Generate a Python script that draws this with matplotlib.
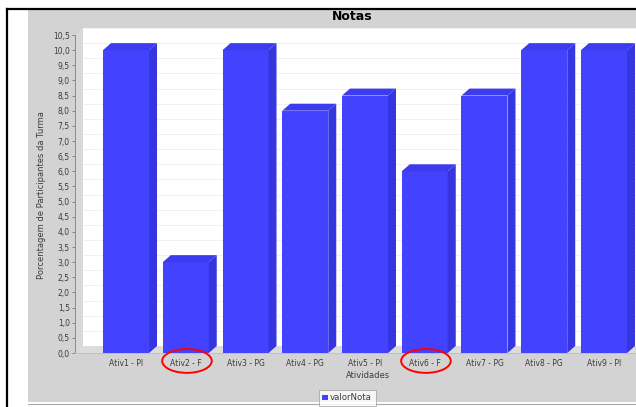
import matplotlib
matplotlib.use("Agg")
import matplotlib.pyplot as plt
import matplotlib.transforms as mtransforms
import numpy as np
from matplotlib.lines import Line2D
from matplotlib.patches import Ellipse, Polygon, Rectangle

# Dados do gráfico
atividades = ['Ativ1 - PI', 'Ativ2 - F', 'Ativ3 - PG', 'Ativ4 - PG', 'Ativ5 - PI',
              'Ativ6 - F', 'Ativ7 - PG', 'Ativ8 - PG', 'Ativ9 - PI']
notas = [10.0, 3.0, 10.0, 8.0, 8.5, 6.0, 8.5, 10.0, 10.0]
y_ticks = np.arange(0, 10.51, 0.5)
serie = 'valorNota'

W, H = 636, 407


def fx(px):
    return px / W


def fy(py):
    return 1 - py / H


fig = plt.figure(figsize=(W / 100, H / 100), dpi=100)
fig.patch.set_facecolor('white')

# fundo cinza do painel e moldura preta
fig.add_artist(Rectangle((fx(28), fy(402)), 1 - fx(28), fy(10) - fy(402),
                         transform=fig.transFigure, facecolor='#d3d3d3',
                         edgecolor='none', zorder=-5))
fig.add_artist(Line2D([fx(7), 1], [fy(9), fy(9)], color='black', lw=1.6, zorder=10))
fig.add_artist(Line2D([fx(7), fx(7)], [fy(9), 0], color='black', lw=1.6, zorder=10))
fig.add_artist(Line2D([fx(28), 1], [fy(403.5), fy(403.5)], color='#a8a8a8', lw=0.8,
                      zorder=-4))

# eixos (frente do gráfico 3D)
ax_left, ax_right, ax_top, ax_bottom = 75, 636, 35, 353
ax = fig.add_axes([fx(ax_left), fy(ax_bottom), fx(ax_right) - fx(ax_left),
                   fy(ax_top) - fy(ax_bottom)])
ax.set_zorder(1)
ax.set_xlim(-0.854, 8.536)
ax.set_ylim(0, 10.5)
ax.patch.set_visible(False)

ax_w = ax_right - ax_left
ax_h = ax_bottom - ax_top
depth_x, depth_y = 8, 7  # profundidade 3D em pixels
offset = mtransforms.ScaledTranslation(depth_x / 100, depth_y / 100, fig.dpi_scale_trans)

# parede do fundo, parede lateral e piso
ax.add_patch(Rectangle((0, 0), 1.2, 1, transform=ax.transAxes + offset,
                       facecolor='white', edgecolor='none', zorder=0, clip_on=False))
dxa, dya = depth_x / ax_w, depth_y / ax_h
ax.add_patch(Polygon([(0, 0), (dxa, dya), (dxa, 1 + dya), (0, 1)],
                     transform=ax.transAxes, facecolor='#d9d9d9', edgecolor='none',
                     zorder=0.5, clip_on=False))
ax.add_patch(Polygon([(0, 0), (1.2, 0), (1.2 + dxa, dya), (dxa, dya)],
                     transform=ax.transAxes, facecolor='#dcdcdc', edgecolor='none',
                     zorder=0.5, clip_on=False))

# linhas de grade na parede do fundo
grid_tr = ax.get_yaxis_transform() + offset
for t in y_ticks[1:]:
    ax.add_line(Line2D([0, 1.2], [t, t], transform=grid_tr, color='#ececec',
                       lw=0.5, zorder=0.8, clip_on=False))

# barras
front_c, side_c, top_c = '#4242ff', '#3636e0', '#3c3cee'
bar_w = 0.77
x = np.arange(len(atividades))
bars = ax.bar(x, notas, width=bar_w, color=front_c, zorder=3, label=serie)

ddx = depth_x * (ax.get_xlim()[1] - ax.get_xlim()[0]) / ax_w
ddy = depth_y * (ax.get_ylim()[1] - ax.get_ylim()[0]) / ax_h
for xi, h in zip(x, notas):
    x0, x1 = xi - bar_w / 2, xi + bar_w / 2
    ax.add_patch(Polygon([(x0, h), (x1, h), (x1 + ddx, h + ddy), (x0 + ddx, h + ddy)],
                         facecolor=top_c, edgecolor='none', zorder=3, clip_on=False))
    ax.add_patch(Polygon([(x1, 0), (x1 + ddx, ddy), (x1 + ddx, h + ddy), (x1, h)],
                         facecolor=side_c, edgecolor='none', zorder=3, clip_on=False))

# eixos e rótulos
for s in ['top', 'right']:
    ax.spines[s].set_visible(False)
ax.spines['left'].set_color('#8a8a8a')
ax.spines['left'].set_linewidth(0.7)
ax.spines['bottom'].set_color('#c0c0c0')
ax.spines['bottom'].set_linewidth(0.7)

ax.set_yticks(y_ticks, labels=[f'{t:.1f}'.replace('.', ',') for t in y_ticks])
ax.tick_params(axis='y', length=2.2, width=0.6, color='#777777', pad=1.5,
               labelsize=5.5, labelcolor='#3c3c3c')
ax.set_xticks(x, labels=atividades)
ax.tick_params(axis='x', length=0, pad=4.5, labelsize=5.5, labelcolor='#3c3c3c')

ax.set_ylabel('Porcentagem de Participantes da Turma', fontsize=6, color='#3c3c3c')
ax.yaxis.set_label_coords(-0.052, 0.497)
ax.set_xlabel('Atividades', fontsize=6, color='#3c3c3c')
ax.xaxis.set_label_coords(0.522, -0.058)

fig.text(fx(352), fy(16), 'Notas', ha='center', va='center', fontsize=9,
         fontweight='bold', color='black', zorder=10)

# legenda
leg = ax.legend(handles=[bars], loc='upper left', bbox_to_anchor=(fx(319), fy(390)),
                bbox_transform=fig.transFigure, fontsize=6.2, frameon=True,
                fancybox=False, edgecolor='#999999', borderpad=0.4,
                handlelength=0.6, handleheight=0.6, handletextpad=0.3,
                borderaxespad=0)
leg.get_frame().set_linewidth(0.6)
for txt in leg.get_texts():
    txt.set_color('#3c3c3c')

# destaque em vermelho das atividades "F"
for xi, label in zip(x, atividades):
    if label.endswith('F'):
        ax.add_patch(Ellipse((xi + 0.02, -0.025), width=0.83, height=0.075,
                             transform=ax.get_xaxis_transform(), fill=False,
                             edgecolor='red', lw=1.4, zorder=5, clip_on=False))

fig.savefig('out.png', dpi=100)
